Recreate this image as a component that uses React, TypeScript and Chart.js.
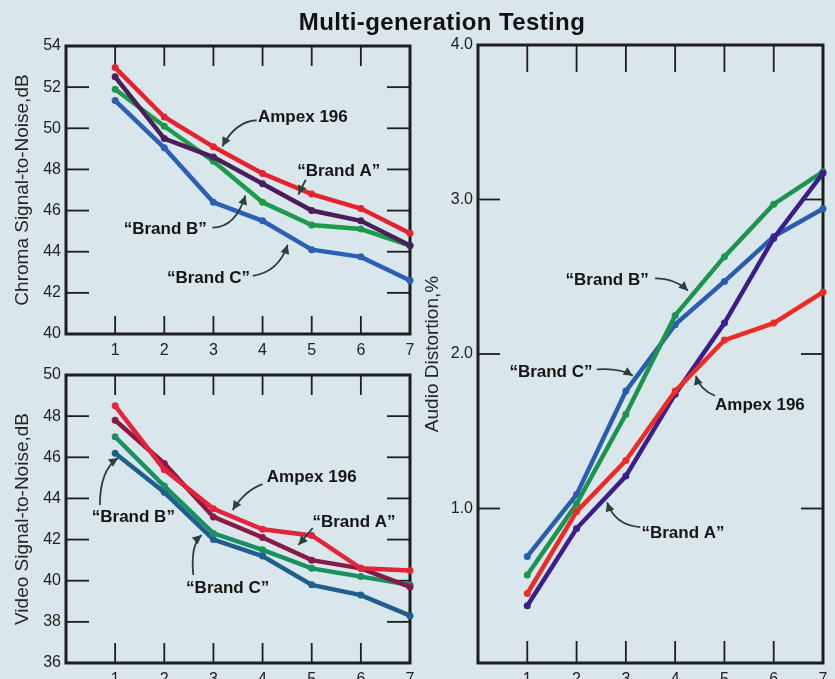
import React, { useEffect, useRef } from "react";
import { Chart, registerables } from "chart.js";

Chart.register(...registerables);

// ---------- data ----------
const generations = [1, 2, 3, 4, 5, 6, 7];
const brandNames = ["Ampex 196", "\u201cBrand A\u201d", "\u201cBrand B\u201d", "\u201cBrand C\u201d"];

const chromaAmpex = [52.95, 50.55, 49.1, 47.8, 46.8, 46.1, 44.9];
const chromaBrandA = [52.5, 49.5, 48.6, 47.3, 46.0, 45.5, 44.3];
const chromaBrandB = [51.9, 50.1, 48.4, 46.4, 45.3, 45.1, 44.3];
const chromaBrandC = [51.35, 49.05, 46.4, 45.5, 44.1, 43.75, 42.6];

const videoAmpex = [48.5, 45.4, 43.5, 42.5, 42.2, 40.6, 40.5];
const videoBrandA = [47.8, 45.7, 43.1, 42.1, 41.0, 40.6, 39.7];
const videoBrandB = [47.0, 44.6, 42.3, 41.5, 40.6, 40.2, 39.8];
const videoBrandC = [46.2, 44.3, 42.0, 41.2, 39.8, 39.3, 38.3];

const audioAmpex = [0.45, 0.98, 1.31, 1.76, 2.09, 2.2, 2.4];
const audioBrandA = [0.37, 0.87, 1.21, 1.74, 2.2, 2.75, 3.17];
const audioBrandB = [0.57, 1.03, 1.61, 2.25, 2.63, 2.97, 3.18];
const audioBrandC = [0.69, 1.09, 1.76, 2.19, 2.47, 2.76, 2.94];

const chromaTicks = [40, 42, 44, 46, 48, 50, 52, 54];
const videoTicks = [36, 38, 40, 42, 44, 46, 48, 50];
const audioTicks = [1, 2, 3, 4];

// callout labels, placed in data units: [label index, text x/y, arrow start, arrow bend, arrow tip]
const chromaNotes = [
  { n: 0, text: [4.82, 50.54], from: [3.88, 50.39], bend: [3.45, 50.34], tip: [3.18, 49.12] },
  { n: 1, text: [5.55, 47.9], from: [4.88, 47.5], bend: [4.8, 47.15], tip: [4.73, 46.78] },
  { n: 2, text: [2.02, 45.07], from: [2.98, 45.17], bend: [3.45, 45.17], tip: [3.65, 46.73] },
  { n: 3, text: [2.9, 42.73], from: [3.8, 42.83], bend: [4.33, 43.02], tip: [4.51, 44.34] },
];
const videoNotes = [
  { n: 0, text: [5.0, 45.04], from: [4.0, 44.7], bend: [3.65, 44.41], tip: [3.39, 43.44] },
  { n: 1, text: [5.86, 42.85], from: [5.02, 42.56], bend: [4.9, 42.2], tip: [4.73, 41.74] },
  { n: 2, text: [1.37, 43.1], from: [0.69, 43.68], bend: [0.69, 45.38], tip: [1.06, 45.96] },
  { n: 3, text: [3.29, 39.65], from: [2.59, 40.28], bend: [2.53, 41.74], tip: [2.76, 42.22] },
];
const audioNotes = [
  { n: 2, text: [2.62, 2.48], from: [3.59, 2.49], bend: [4.0, 2.49], tip: [4.26, 2.41] },
  { n: 3, text: [1.48, 1.88], from: [2.41, 1.9], bend: [2.88, 1.91], tip: [3.14, 1.86] },
  { n: 0, text: [5.72, 1.67], from: [4.81, 1.73], bend: [4.5, 1.77], tip: [4.42, 1.86] },
  { n: 1, text: [4.16, 0.84], from: [3.29, 0.88], bend: [2.78, 0.89], tip: [2.62, 1.04] },
];

// ---------- styling ----------
const FONT = '"Liberation Sans", Arial, sans-serif';
const BG = "#d9e7ec";
const INK = "#1c1e1f";

const panelPlugin = {
  id: "panelDeco",
  beforeDatasetsDraw(chart: any, _a: any, opts: any) {
    const { ctx, chartArea, scales } = chart;
    const { left, right, top, bottom } = chartArea;
    const xs = scales.x;
    const ys = scales.y;
    ctx.save();
    ctx.strokeStyle = INK;
    ctx.lineWidth = 1.8;
    const seg = (x1: number, y1: number, x2: number, y2: number) => {
      ctx.beginPath();
      ctx.moveTo(x1, y1);
      ctx.lineTo(x2, y2);
      ctx.stroke();
    };
    for (const t of xs.ticks) {
      const px = xs.getPixelForValue(t.value);
      if (px >= right - 2 || px <= left + 2) continue;
      seg(px, top, px, top + opts.topLen);
      seg(px, bottom, px, bottom - opts.bottomLen);
    }
    for (const t of ys.ticks) {
      const py = ys.getPixelForValue(t.value);
      if (py <= top + 2 || py >= bottom - 2) continue;
      seg(left, py, left + opts.sideLen, py);
      seg(right, py, right - opts.sideLen, py);
    }
    ctx.lineWidth = 3;
    ctx.strokeRect(left, top, right - left, bottom - top);
    ctx.restore();
  },
  afterDraw(chart: any, _a: any, opts: any) {
    const { ctx, scales } = chart;
    const xs = scales.x;
    const ys = scales.y;
    const P = (p: number[]) => [xs.getPixelForValue(p[0]), ys.getPixelForValue(p[1])];
    ctx.save();
    for (const note of opts.notes) {
      const [sx, sy] = P(note.from);
      const [cx, cy] = P(note.bend);
      const [ex, ey] = P(note.tip);
      ctx.strokeStyle = "#2a403d";
      ctx.fillStyle = "#2a403d";
      ctx.lineWidth = 1.8;
      ctx.beginPath();
      ctx.moveTo(sx, sy);
      ctx.quadraticCurveTo(cx, cy, ex, ey);
      ctx.stroke();
      const ang = Math.atan2(ey - cy, ex - cx);
      const L = 9;
      const W = 4.5;
      ctx.beginPath();
      ctx.moveTo(ex, ey);
      ctx.lineTo(ex - L * Math.cos(ang) + W * Math.sin(ang), ey - L * Math.sin(ang) - W * Math.cos(ang));
      ctx.lineTo(ex - L * Math.cos(ang) - W * Math.sin(ang), ey - L * Math.sin(ang) + W * Math.cos(ang));
      ctx.closePath();
      ctx.fill();
      const [tx, ty] = P(note.text);
      ctx.font = `bold 17px ${FONT}`;
      ctx.fillStyle = "#151515";
      ctx.textAlign = "center";
      ctx.textBaseline = "middle";
      ctx.fillText(brandNames[note.n], tx, ty);
    }
    ctx.restore();
  },
};

type PanelCfg = {
  left: number;
  top: number;
  width: number;
  height: number;
  padTop: number;
  padRight: number;
  yWidth: number;
  xHeight: number;
  yMin: number;
  yMax: number;
  yTicks: number[];
  decimals: number;
  title: string;
  titlePad: number;
  series: number[][];
  colors: string[];
  notes: any[];
  topLen: number;
  bottomLen: number;
  sideLen: number;
};

const panels: PanelCfg[] = [
  {
    left: 0, top: 0, width: 430, height: 360,
    padTop: 46, padRight: 20, yWidth: 66, xHeight: 26,
    yMin: 40, yMax: 54, yTicks: chromaTicks, decimals: 0,
    title: "Chroma Signal-to-Noise,dB", titlePad: 11,
    series: [chromaAmpex, chromaBrandA, chromaBrandB, chromaBrandC],
    colors: ["#e6222c", "#4a1e5c", "#1d9a4a", "#2c5fb6"],
    notes: chromaNotes, topLen: 20, bottomLen: 18, sideLen: 23,
  },
  {
    left: 0, top: 360, width: 430, height: 319,
    padTop: 15, padRight: 20, yWidth: 66, xHeight: 16,
    yMin: 36, yMax: 50, yTicks: videoTicks, decimals: 0,
    title: "Video Signal-to-Noise,dB", titlePad: 11,
    series: [videoAmpex, videoBrandA, videoBrandB, videoBrandC],
    colors: ["#e3243a", "#8a1a45", "#189060", "#1f5e8e"],
    notes: videoNotes, topLen: 20, bottomLen: 20, sideLen: 23,
  },
  {
    left: 420, top: 0, width: 415, height: 679,
    padTop: 45, padRight: 12, yWidth: 58, xHeight: 16,
    yMin: 0, yMax: 4, yTicks: audioTicks, decimals: 1,
    title: "Audio Distortion,%", titlePad: 1,
    series: [audioAmpex, audioBrandA, audioBrandB, audioBrandC],
    colors: ["#ee2a24", "#3b1d8c", "#1b9450", "#2a5cb0"],
    notes: audioNotes, topLen: 27, bottomLen: 22, sideLen: 22,
  },
];

function buildConfig(cfg: PanelCfg): any {
  const datasets = cfg.series.map((vals, i) => ({
    label: brandNames[i],
    data: generations.map((g, j) => ({ x: g, y: vals[j] })),
    borderColor: cfg.colors[i],
    backgroundColor: cfg.colors[i],
    borderWidth: 4.5,
    pointRadius: 3.5,
    pointBorderWidth: 0,
    tension: 0,
    clip: false,
  }));
  return {
    type: "line",
    data: { datasets },
    plugins: [panelPlugin],
    options: {
      responsive: false,
      animation: false,
      events: [],
      layout: { padding: { top: cfg.padTop, right: cfg.padRight, left: 0, bottom: 0 } },
      plugins: {
        legend: { display: false },
        tooltip: { enabled: false },
        panelDeco: { notes: cfg.notes, topLen: cfg.topLen, bottomLen: cfg.bottomLen, sideLen: cfg.sideLen },
      },
      scales: {
        x: {
          type: "linear",
          min: 0,
          max: 7,
          afterBuildTicks: (s: any) => {
            s.ticks = generations.map((v) => ({ value: v }));
          },
          afterFit: (s: any) => {
            s.height = cfg.xHeight;
          },
          grid: { display: false, drawTicks: false },
          border: { display: false },
          ticks: {
            padding: 7,
            autoSkip: false,
            maxRotation: 0,
            color: "#222",
            font: { family: FONT, size: 16 },
            callback: (v: any) => String(v),
          },
        },
        y: {
          type: "linear",
          min: cfg.yMin,
          max: cfg.yMax,
          afterBuildTicks: (s: any) => {
            s.ticks = cfg.yTicks.map((v) => ({ value: v }));
          },
          afterFit: (s: any) => {
            s.width = cfg.yWidth;
          },
          grid: { display: false, drawTicks: false },
          border: { display: false },
          title: {
            display: true,
            text: cfg.title,
            color: "#262626",
            font: { family: FONT, size: 19 },
            padding: { top: cfg.titlePad, bottom: 0 },
          },
          ticks: {
            padding: 5,
            autoSkip: false,
            color: "#222",
            font: { family: FONT, size: 16 },
            callback: (v: any) => Number(v).toFixed(cfg.decimals),
          },
        },
      },
    },
  };
}

function Panel({ cfg }: { cfg: PanelCfg }) {
  const ref = useRef<HTMLCanvasElement>(null);
  useEffect(() => {
    if (!ref.current) return;
    const chart = new Chart(ref.current, buildConfig(cfg));
    return () => chart.destroy();
  }, [cfg]);
  return (
    <canvas
      ref={ref}
      width={cfg.width}
      height={cfg.height}
      style={{ position: "absolute", left: cfg.left, top: cfg.top, width: cfg.width, height: cfg.height }}
    />
  );
}

export default function App() {
  return (
    <div
      style={{
        position: "fixed",
        left: 0,
        top: 0,
        width: 835,
        height: 679,
        background: BG,
        overflow: "hidden",
      }}
    >
      {panels.map((p, i) => (
        <Panel key={i} cfg={p} />
      ))}
      <div
        style={{
          position: "absolute",
          left: 442,
          top: 8,
          transform: "translateX(-50%)",
          whiteSpace: "nowrap",
          fontFamily: FONT,
          fontWeight: 700,
          fontSize: 24,
          lineHeight: "28px",
          color: "#111",
          letterSpacing: 0.4,
        }}
      >
        Multi-generation Testing
      </div>
    </div>
  );
}
